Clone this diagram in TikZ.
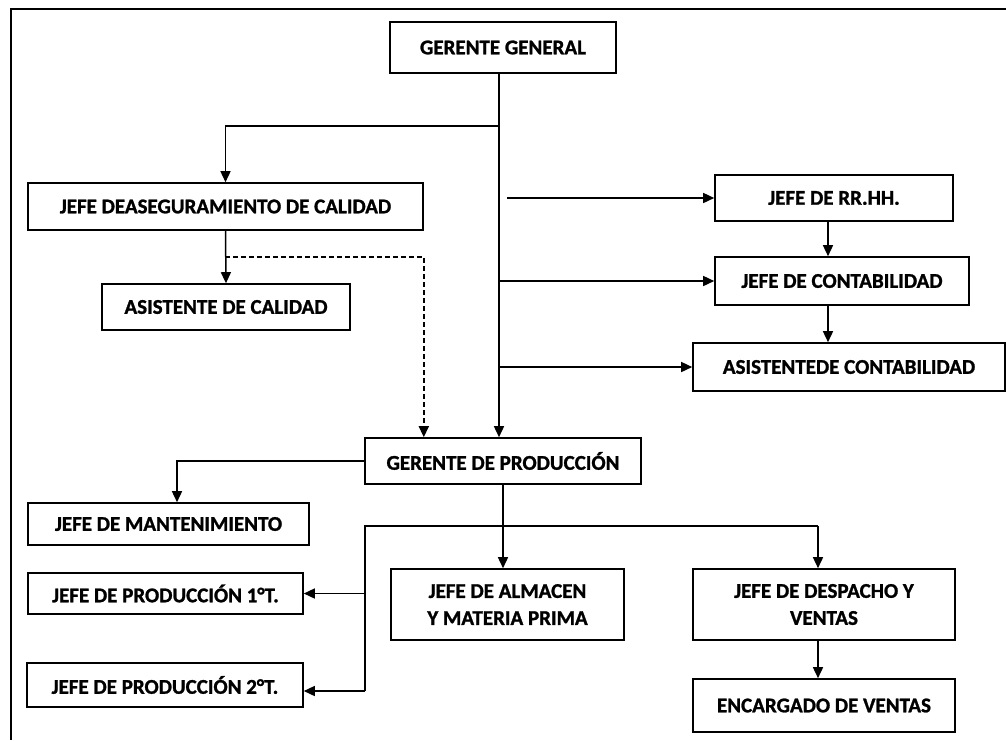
\documentclass[tikz,border=0pt]{standalone}
\usepackage{fontspec}
\setmainfont{Carlito}[BoldFeatures={FakeBold=1.2}]
\usetikzlibrary{arrows.meta}
\begin{document}
\begin{tikzpicture}[x=1pt,y=-1pt,
  box/.style={draw=black,line width=1.6pt,fill=white,inner sep=0pt,align=center,
    font=\fontsize{21}{27}\selectfont\bfseries},
  conn/.style={line width=1.5pt},
  arr/.style={conn,-{Triangle[length=11pt,width=10pt]}},
  dsh/.style={arr,dash pattern=on 5pt off 3pt}]
\useasboundingbox (0,0) rectangle (1006,740);
\draw[line width=2pt] (11,740) -- (11,9) -- (1006,9);
% nodes
\node[box,minimum width=226pt,minimum height=51pt] (gg) at (503,47.5) {GERENTE GENERAL};
\node[box,minimum width=395pt,minimum height=47pt] (jac) at (225.5,206.5) {JEFE DEASEGURAMIENTO DE CALIDAD};
\node[box,minimum width=248pt,minimum height=46pt] (ac) at (226,307) {ASISTENTE DE CALIDAD};
\node[box,minimum width=238pt,minimum height=46pt] (rrhh) at (834,198) {JEFE DE RR.HH.};
\node[box,minimum width=254pt,minimum height=48pt] (cont) at (842,281) {JEFE DE CONTABILIDAD};
\node[box,minimum width=312pt,minimum height=48pt] (acont) at (849,367) {ASISTENTEDE CONTABILIDAD};
\node[box,minimum width=276pt,minimum height=46pt] (gp) at (503,461) {GERENTE DE PRODUCCIÓN};
\node[box,minimum width=281pt,minimum height=42pt] (mant) at (168.5,524) {JEFE DE MANTENIMIENTO};
\node[box,minimum width=275pt,minimum height=41pt] (p1) at (165.5,593.5) {JEFE DE PRODUCCIÓN 1°T.};
\node[box,minimum width=276pt,minimum height=44pt] (p2) at (165,685) {JEFE DE PRODUCCIÓN 2°T.};
\node[box,minimum width=233pt,minimum height=71pt] (alm) at (507.5,604.5) {JEFE DE ALMACEN\\Y MATERIA PRIMA};
\node[box,minimum width=262pt,minimum height=71pt] (desp) at (824,604.5) {JEFE DE DESPACHO Y\\VENTAS};
\node[box,minimum width=262pt,minimum height=53pt] (enc) at (824,705.5) {ENCARGADO DE VENTAS};
% helper coordinates
\coordinate (m) at (499,126);
\coordinate (rr0) at (507,198);
\coordinate (c) at (828,0);
\coordinate (d1) at (225,257);
\coordinate (mk) at (177,0);
\coordinate (h1) at (365,526);
\coordinate (h2) at (818,526);
\coordinate (h3) at (365,691);
% connectors
\draw[arr] (gg.south -| m) -- (gp.north -| m);
\draw[arr] (m) -| (jac.north);
\draw[arr] (jac.south) -- (ac.north);
\draw[dsh] (d1) -| (jac.east |- gp.north);
\draw[arr] (rr0) -- (rrhh.west);
\draw[arr] (m |- cont.west) -- (cont.west);
\draw[arr] (m |- acont.west) -- (acont.west);
\draw[arr] (rrhh.south -| c) -- (cont.north -| c);
\draw[arr] (cont.south -| c) -- (acont.north -| c);
\draw[arr] (gp.west) -| (mk |- mant.north);
\draw[arr] (gp.south) -- (gp.south |- alm.north);
\draw[conn] (h3) -- (h1) -- (h2);
\draw[arr] (h2) -- (h2 |- desp.north);
\draw[arr] (h1 |- p1.east) -- (p1.east);
\draw[arr] (h3) -- (p2.east |- h3);
\draw[arr] (desp.south -| h2) -- (enc.north -| h2);
\end{tikzpicture}
\end{document}
